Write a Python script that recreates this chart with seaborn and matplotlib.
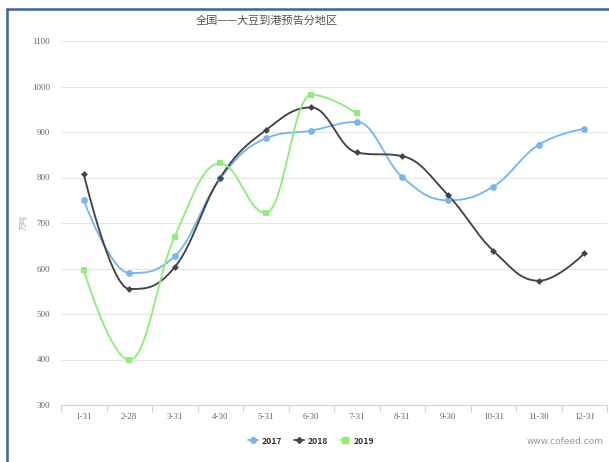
import numpy as np
import pandas as pd
import matplotlib
matplotlib.use("Agg")
import matplotlib.pyplot as plt
from matplotlib.lines import Line2D
import seaborn as sns

# ---- data -------------------------------------------------------------
categories = ["1-31", "2-28", "3-31", "4-30", "5-31", "6-30",
              "7-31", "8-31", "9-30", "10-31", "11-30", "12-31"]
values_2017 = [750, 590, 627, 798, 886, 903, 922, 801, 750, 780, 872, 907]
values_2018 = [808, 555, 603, 800, 904, 954, 855, 847, 762, 639, 573, 633]
values_2019 = [597, 399, 670, 831, 722, 982, 941]
series_names = ["2017", "2018", "2019"]
y_ticks = [300, 400, 500, 600, 700, 800, 900, 1000, 1100]

colors = {"2017": "#7cb5ec", "2018": "#434348", "2019": "#90ed7d"}
markers = {"2017": "o", "2018": "D", "2019": "s"}
msizes = {"2017": 24, "2018": 12, "2019": 24}


def spline_path(xs, ys, smoothing=1.5, steps=30):
    """Cubic Bezier spline through the points (Highcharts-style control points)."""
    xs = np.asarray(xs, float)
    ys = np.asarray(ys, float)
    n = len(xs)
    denom = smoothing + 1
    left = [(xs[0], ys[0])]
    right = [(xs[0], ys[0])]
    for i in range(1, n - 1):
        px, py = xs[i], ys[i]
        lx = (smoothing * px + xs[i - 1]) / denom
        ly = (smoothing * py + ys[i - 1]) / denom
        rx = (smoothing * px + xs[i + 1]) / denom
        ry = (smoothing * py + ys[i + 1]) / denom
        if rx != lx:
            corr = (ry - ly) * (rx - px) / (rx - lx) + py - ry
            ly += corr
            ry += corr
        lasty, nexty = ys[i - 1], ys[i + 1]
        if ly > lasty and ly > py:
            ly = max(lasty, py)
            ry = 2 * py - ly
        elif ly < lasty and ly < py:
            ly = min(lasty, py)
            ry = 2 * py - ly
        if ry > nexty and ry > py:
            ry = max(nexty, py)
            ly = 2 * py - ry
        elif ry < nexty and ry < py:
            ry = min(nexty, py)
            ly = 2 * py - ry
        left.append((lx, ly))
        right.append((rx, ry))
    left.append((xs[-1], ys[-1]))
    right.append((xs[-1], ys[-1]))
    t = np.linspace(0, 1, steps)
    cx, cy = [], []
    for i in range(n - 1):
        p0 = np.array([xs[i], ys[i]])
        p1 = np.array(right[i])
        p2 = np.array(left[i + 1])
        p3 = np.array([xs[i + 1], ys[i + 1]])
        b = ((1 - t) ** 3)[:, None] * p0 + (3 * (1 - t) ** 2 * t)[:, None] * p1 \
            + (3 * (1 - t) * t ** 2)[:, None] * p2 + (t ** 3)[:, None] * p3
        cx.extend(b[:, 0])
        cy.extend(b[:, 1])
    return np.array(cx), np.array(cy)


series = {"2017": values_2017, "2018": values_2018, "2019": values_2019}

sns.set_theme(style="white")
plt.rcParams["font.family"] = ["Noto Sans CJK SC", "DejaVu Sans"]

fig = plt.figure(figsize=(6.09, 4.62), dpi=100)
ax = fig.add_axes([61 / 609, 1 - 405 / 462, 546 / 609, 364 / 462])

for name in series_names:
    vals = series[name]
    xs = np.arange(len(vals))
    cx, cy = spline_path(xs, vals)
    curve = pd.DataFrame({"x": cx, "y": cy})
    sns.lineplot(data=curve, x="x", y="y", sort=False, estimator=None,
                 color=colors[name], linewidth=1.35, ax=ax, zorder=3)
    pts = pd.DataFrame({"x": xs, "y": vals})
    sns.scatterplot(data=pts, x="x", y="y", color=colors[name],
                    marker=markers[name], s=msizes[name], linewidth=0,
                    ax=ax, zorder=4)

ax.set_xlim(-0.5, len(categories) - 0.5)
ax.set_ylim(300, 1100)
ax.set_yticks(y_ticks)
ax.set_yticklabels([str(v) for v in y_ticks], family="Liberation Serif",
                   fontsize=6.5, color="#666666")
ax.yaxis.grid(True, color="#e6e6e6", linewidth=0.8)
ax.tick_params(axis="y", length=0, pad=8)

ax.set_xticks(np.arange(len(categories)))
ax.set_xticklabels(categories, family="Liberation Serif", fontsize=6.5,
                   color="#666666")
ax.tick_params(axis="x", length=0, pad=6)
for b in np.arange(-0.5, len(categories), 1.0):
    ax.add_line(Line2D([b, b], [0, -0.02], transform=ax.get_xaxis_transform(),
                       color="#ccd6eb", linewidth=0.8, clip_on=False))

for s in ["top", "right", "left"]:
    ax.spines[s].set_visible(False)
ax.spines["bottom"].set_color("#ccd6eb")
ax.spines["bottom"].set_linewidth(0.8)

ax.set_xlabel("")
ax.set_ylabel("")
fig.text(24 / 609, 1 - 222 / 462, "万吨", rotation=90, ha="center",
         va="center", fontsize=5.5, color="#aaaaaa")

fig.text(267 / 609, 1 - 21 / 462, "全国——大豆到港预告分地区", ha="center",
         va="center", fontsize=8, color="#555555")

handles = [Line2D([0], [0], color=colors[n], marker=markers[n],
                  markersize=4 if n != "2018" else 3, linewidth=1.3)
           for n in series_names]
leg = fig.legend(handles, series_names, loc="center",
                 bbox_to_anchor=(311 / 609, 1 - 441 / 462), ncol=3,
                 frameon=False, handlelength=1.2, handletextpad=0.4,
                 columnspacing=1.4, prop={"size": 6.2, "weight": "bold"})
for t in leg.get_texts():
    t.set_color("#333333")

fig.text(604 / 609, 1 - 441 / 462, "www.cofeed.com", ha="right",
         va="center", fontsize=6.5, color="#999999", family="DejaVu Sans")

# dark frame along the left and top edges
fig.add_artist(Line2D([7 / 609, 7 / 609], [0, 1 - 9 / 462],
                      transform=fig.transFigure, color="#3d6596",
                      linewidth=1.8))
fig.add_artist(Line2D([7 / 609, 1], [1 - 9 / 462, 1 - 9 / 462],
                      transform=fig.transFigure, color="#3d6596",
                      linewidth=1.8))

fig.savefig("out.png", dpi=100)
